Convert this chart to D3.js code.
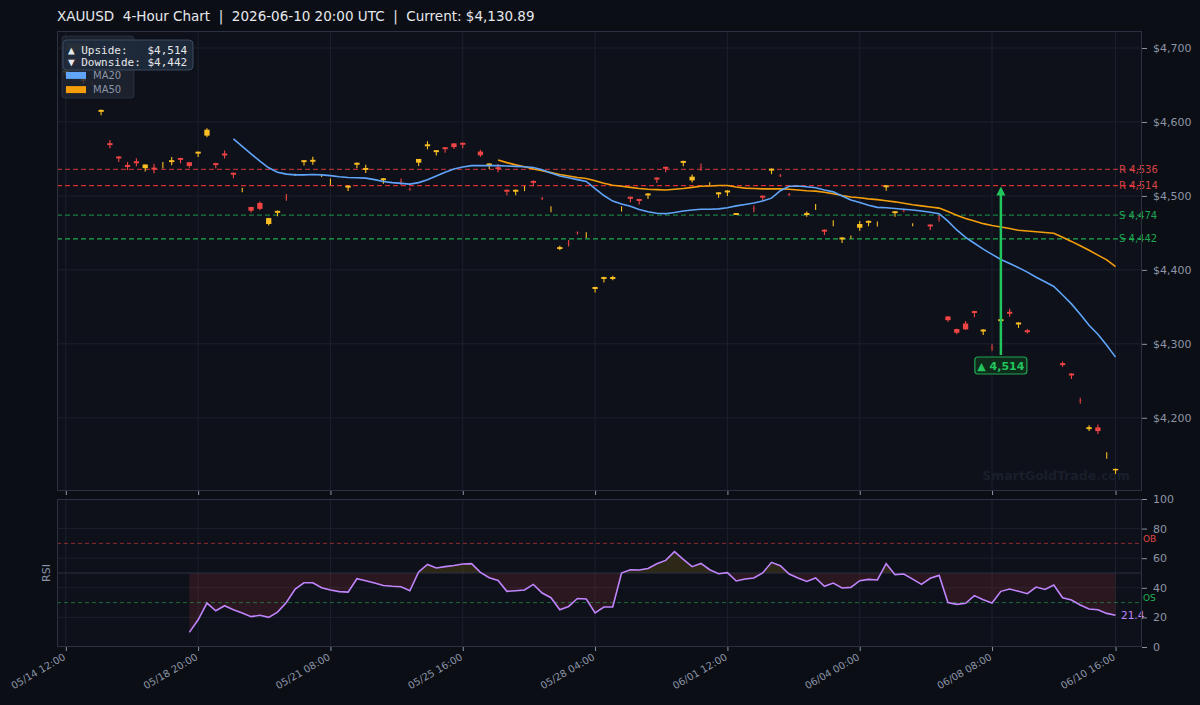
<!DOCTYPE html>
<html>
<head>
<meta charset="utf-8">
<title>XAUUSD 4-Hour Chart</title>
<script src="https://cdn.jsdelivr.net/npm/d3@7"></script>
<style>
  body { margin: 0; background: #0b0e15; }
  svg { display: block; font-family: "DejaVu Sans", sans-serif; }
</style>
</head>
<body>
<div id="chart"></div>
<script>
// XAUUSD 4h candles, MA20 / MA50, support & resistance, RSI(14)

// ---- data ----
const opens = [4666.7,4663.3,4655.7,4652.1,4613.7,4571.3,4553.3,4541.8,4546.8,4537.5,
  4538.3,4541.5,4545.7,4551.3,4545.5,4557.2,4581.5,4544.3,4557.3,4531.3,
  4508,4485,4490.5,4462,4477.2,4498.1,4528.5,4545.7,4546.2,4527.5,
  4519,null,4511.2,4542.2,4535.2,null,4521.2,null,4519.1,4509.1,
  4545,4567.2,4559.2,4565.8,4571,4571.8,null,4560,4541.2,4538.8,
  4508.3,4505.7,4510,4520.3,4496.6,4482,4428.2,4436.1,4450.1,4447,
  4374.2,4387.7,4387.7,4482.5,4498.8,4495.8,4500.7,4524.8,4539.3,null,
  4544.7,4521,4539.1,4516.5,4502.2,4504.7,4474.2,null,4482.6,4500.3,
  4534.2,4527.6,4502.1,null,4474.2,4485,4454.3,4463,4441.2,4444.5,
  4457,4463.7,4462,4511.7,4476.7,4480.1,4461,null,4461.3,4470.1,
  4337,4320,4327.5,4344.3,4316.7,4295.1,4330.7,4343.3,4326.2,4318.3,
  null,null,null,4273.8,4259.8,4223.1,4184.7,4187,4149,4128.9];
const highs = [4669.7,4663.7,4662.5,4654,4616.7,4575.5,4553.7,4546,4551,4542.6,
  4543.5,4546,4552.5,4551.7,4546,4560.2,4591.5,4544.7,4561.5,4531.7,
  4511,4485.5,4492.5,4470.5,4480.2,4502.5,4530,4548.7,4553,4529.5,
  4523.5,null,4514.2,4545.2,4542,null,4524.2,null,4523.5,4511,
  4550,4574,4562.2,4566.2,4571.5,4572.2,null,4562.5,4544.2,4543,
  4508.7,4508.7,4513.5,4520.7,4498.5,4486,4432.5,4440.5,4452,4451,
  4377.2,4390.7,4392,4486,4499.2,4496.2,4503.7,4525.2,4539.7,null,
  4547.7,4529,4544,4518.5,4505.2,4507.7,4476.8,null,4487,4500.7,
  4537.2,4529.5,4504,null,4479,4489,4454.7,4467,4444.2,4446.5,
  4466,4466.7,4465.5,4514.7,4479.7,4482,4463,null,4461.7,4474.5,
  4337.5,4320.5,4331,4344.7,4319.7,4299.5,4333.3,4347.5,4329.2,4320,
  null,null,null,4276,4260.2,4227,4190,4191,4153.5,4131.3];
const lows = [4662,4656,4651.5,4650,4609,4564.5,4546,4535,4540,4533,
  4530.5,4537,4541.5,4544,4538,4552.5,4579.5,4537,4550.5,4524,
  4505,4477.5,4480.5,4460,4472.5,4493.5,4527,4541,4542,4525.5,
  4514.5,null,4506.5,4537.5,4531,null,4516.5,null,4514.5,4507,
  4540.5,4563,4554.5,4558.5,4563.5,4564.5,null,4552.5,4536.5,4532,
  4501,4501,4506.5,4513,4494.5,4478,4426.5,4431.5,4448,4443,
  4369.5,4383,4386,4479,4491.5,4488.5,4496,4517.5,4532,null,
  4540,4518,4534,4514.5,4497.5,4500,4474.2,null,4478,4493,
  4529.5,4525.5,4500,null,4472,4481,4447,4459,4436.5,4442.5,
  4453,4459,4458.5,4507,4472,4478,4459,null,4454,4465.5,
  4330,4313,4319,4336,4312,4290.5,4330.7,4336.5,4321.5,4314,
  null,null,null,4269,4252.5,4219,4182,4178,4144.5,4124];
const closes = [4669.3,4660.7,4658.3,4651.9,4616.3,4568.7,4550.7,4539.2,4544.2,4542.5,
  4535.7,4541.5,4548.3,4548.7,4540.5,4559.8,4589.5,4541.7,4554.7,4528.7,
  4508,4480,4482.5,4470,4479.8,4497.9,4528.5,4548.3,4548.8,4527.5,
  4519,null,4513.8,4544.8,4537.8,null,4523.8,null,4518.9,4508.9,
  4550,4569.8,4561.8,4563.2,4566,4569.2,null,4555,4543.8,4536.2,
  4505.7,4508.3,4510,4517.7,4496.4,4482,4430.8,4435.9,4449.9,4447,
  4376.8,4390.3,4390.3,4482.5,4496.2,4493.2,4503.3,4522.2,4536.7,null,
  4547.3,4526,4538.9,4516.5,4504.8,4507.3,4476.8,null,4482.4,4497.7,
  4536.8,4527.4,4501.9,null,4476.8,4485,4451.7,4463,4443.8,4444.5,
  4462,4466.3,4462,4514.3,4479.3,4479.9,4461,null,4458.7,4469.9,
  4332,4315,4319.5,4341.7,4319.3,4294.9,4333.3,4340.7,4328.8,4315.7,
  null,null,null,4271.2,4257.2,4222.9,4187.3,4182,4149,4130.89];

// MA20 starts at bar 19, MA50 at bar 49
const ma20Start = 19;
const ma20 = [4577,4567,4557,4547,4538,4532,4529.5,4528.5,4528.5,4529,
  4528.5,4527.5,4526,4525,4524.5,4524,4522,4519.5,4518,4517,
  4516,4518,4522,4527,4532,4536.5,4539,4541,4541,4541,
  4541,4540.5,4540,4539.5,4538.5,4535.5,4531,4527,4524.5,4522,
  4519.5,4510,4500.5,4493,4489,4486,4481.5,4478.5,4476.5,4476,
  4477.5,4479.5,4481,4482,4482,4482.5,4484,4486.5,4488.5,4490.5,
  4493,4497,4507,4513,4513.5,4512.5,4511,4508,4505.5,4500,
  4494.5,4491,4487.5,4484.5,4484,4483,4482,4481,4479.5,4478,
  4476,4466,4454,4444,4436,4428,4421,4414,4408.5,4403,
  4397,4390,4384,4377.5,4366,4354,4340,4325,4313,4298,4282];
const ma50Start = 49;
const ma50 = [4548.5,4545,4542,4539.5,4536.5,4534,4531.5,4529,4527,4525,
  4523.5,4520.5,4517,4514.5,4513,4511.5,4510,4509,4508.5,4508,
  4509,4510,4511.5,4513,4513.5,4514,4514,4512,4510.5,4510,
  4509.5,4509.5,4509.5,4509,4508,4507,4506.5,4505,4503,4500.5,
  4498.5,4497.5,4496,4495,4493.5,4492,4490,4488,4486.5,4485,
  4483.5,4479,4474,4469.5,4466,4462.5,4460,4458,4456,4453.5,
  4452.5,4451.5,4450.5,4449.5,4444,4438.5,4432.5,4426.5,4420,4413.5,4404.5];

// RSI(14) starts at bar 14
const rsiStart = 14;
const rsi = [9.9,18.4,29.7,24.5,27.9,25.2,23,20.5,21.4,20,
  23.6,30.1,39.2,43.4,43.4,40,38.5,37.4,37.1,46.1,
  44.8,43.2,41.6,41,40.7,38,50.7,55.8,53.4,54.3,
  55.1,56.1,56.3,50.4,46.8,45,37.6,38,38.5,42.3,
  36.5,33.3,25.2,27.4,32.8,32.4,23,27,27,50,
  52.2,52,53.1,56.3,58.5,64.4,59.2,54.3,56.5,52.2,
  49.5,50.2,44.6,45.9,46.6,50,57.2,54.9,49.3,46.6,
  44.3,46.6,41,43.2,39.9,40.3,44.8,45.7,45.3,56.3,
  48.9,49.3,45.9,42.3,46.4,48.4,30.1,28.8,29.5,34.7,
  32,29.7,37.6,39.2,37.6,36,40.5,38.9,41.9,33.3,
  31.8,28.4,25.7,25.2,22.7,21.4];

// x tick positions (bar index) and labels
const xTickBars = [0, 15, 30, 45, 60, 75, 90, 105, 119];
const xTickLabels = ['05/14 12:00','05/18 20:00','05/21 08:00','05/25 16:00','05/28 04:00',
  '06/01 12:00','06/04 00:00','06/08 08:00','06/10 16:00'];
const priceTicks = [4200, 4300, 4400, 4500, 4600, 4700];
const rsiTicks = [0, 20, 40, 60, 80, 100];

// support / resistance
const levelNames = ['R', 'R', 'S', 'S'];
const levelValues = [4536, 4514, 4474, 4442];
const upside = 4514, downside = 4442;
const currentPrice = 4130.89;
const targetBar = 106, targetFrom = 4270;

// ---- layout ----
const W = 1200, H = 705;
const L = 57, R = 1142;
const mainTop = 31, mainBottom = 491;
const rsiTop = 499, rsiBottom = 647;

const bg = '#0b0e15', panelBg = '#0e111a', gridC = '#1b212d', frameC = '#2a3140', tickC = '#8b95a7';
const bullC = '#fbbf24', bearC = '#ef4444';

const svg = d3.select('#chart').append('svg')
  .attr('width', W).attr('height', H)
  .style('background', bg);

const x = d3.scaleLinear().domain([-1, 122]).range([L, R]);
const y = d3.scaleLinear().domain([4101, 4723]).range([mainBottom, mainTop]);
const yR = d3.scaleLinear().domain([0, 100]).range([rsiBottom, rsiTop]);

// Title (double spaces kept)
svg.append('text')
  .attr('x', L).attr('y', 21)
  .attr('fill', '#e6e8ec')
  .style('font-size', '13.5px')
  .style('white-space', 'pre')
  .text(`XAUUSD  4-Hour Chart  |  2026-06-10 20:00 UTC  |  Current: $${d3.format(',.2f')(currentPrice)}`);

// Panel backgrounds
[[mainTop, mainBottom], [rsiTop, rsiBottom]].forEach(([t, b]) => {
  svg.append('rect').attr('x', L).attr('y', t).attr('width', R - L).attr('height', b - t)
    .attr('fill', panelBg);
});

// Grid lines
const grid = svg.append('g').attr('stroke', gridC).attr('stroke-width', 1);
xTickBars.forEach(i => {
  grid.append('line').attr('x1', x(i)).attr('x2', x(i)).attr('y1', mainTop).attr('y2', mainBottom);
  grid.append('line').attr('x1', x(i)).attr('x2', x(i)).attr('y1', rsiTop).attr('y2', rsiBottom);
});
priceTicks.forEach(p => {
  grid.append('line').attr('x1', L).attr('x2', R).attr('y1', y(p)).attr('y2', y(p));
});
[20, 40, 60, 80].forEach(v => {
  grid.append('line').attr('x1', L).attr('x2', R).attr('y1', yR(v)).attr('y2', yR(v));
});

// Watermark
svg.append('text')
  .attr('x', 1130).attr('y', 480)
  .attr('text-anchor', 'end')
  .attr('fill', '#181f2b')
  .style('font-size', '12.5px').style('font-weight', 'bold')
  .text('SmartGoldTrade.com');

// Support / resistance lines
const levelColors = ['rgba(220,60,60,0.75)', 'rgba(230,50,50,0.95)', 'rgba(34,160,80,0.75)', 'rgba(30,180,80,0.95)'];
levelValues.forEach((v, k) => {
  svg.append('text')
    .attr('x', 1119).attr('y', y(v)).attr('dy', '0.35em')
    .attr('fill', levelNames[k] === 'R' ? '#d84545' : '#1fa552')
    .style('font-size', '10px')
    .text(`${levelNames[k]} ${d3.format(',')(v)}`);
  svg.append('line')
    .attr('x1', L).attr('x2', R).attr('y1', y(v)).attr('y2', y(v))
    .attr('stroke', levelColors[k]).attr('stroke-width', 1.2)
    .attr('stroke-dasharray', '5,3');
});

// Candles
const bars = d3.range(opens.length).filter(i => opens[i] !== null);
const bodyW = (x(1) - x(0)) * 0.6;
const candles = svg.append('g');
candles.selectAll('.wick').data(bars).enter().append('line')
  .attr('x1', i => x(i)).attr('x2', i => x(i))
  .attr('y1', i => y(highs[i])).attr('y2', i => y(lows[i]))
  .attr('stroke', i => closes[i] >= opens[i] ? bullC : bearC)
  .attr('stroke-width', 1.1);
candles.selectAll('.body').data(bars).enter().append('rect')
  .attr('x', i => x(i) - bodyW / 2)
  .attr('width', bodyW)
  .attr('y', i => y(Math.max(opens[i], closes[i])))
  .attr('height', i => Math.abs(y(opens[i]) - y(closes[i])))
  .attr('fill', i => closes[i] >= opens[i] ? bullC : bearC);

// Moving averages
const line = d3.line().x(d => x(d[0])).y(d => y(d[1]));
svg.append('path')
  .datum(ma50.map((v, k) => [ma50Start + k, v]))
  .attr('d', line).attr('fill', 'none')
  .attr('stroke', '#f59e0b').attr('stroke-width', 1.6);
svg.append('path')
  .datum(ma20.map((v, k) => [ma20Start + k, v]))
  .attr('d', line).attr('fill', 'none')
  .attr('stroke', '#60a5fa').attr('stroke-width', 1.6);

// Target arrow + label
const ax = x(targetBar);
svg.append('line')
  .attr('x1', ax).attr('x2', ax)
  .attr('y1', y(targetFrom) - 11).attr('y2', y(upside) + 7)
  .attr('stroke', '#22c55e').attr('stroke-width', 2.5);
svg.append('path')
  .attr('d', `M${ax},${y(upside) + 1}L${ax - 4.5},${y(upside) + 10}L${ax + 4.5},${y(upside) + 10}Z`)
  .attr('fill', '#22c55e');
svg.append('rect')
  .attr('x', ax - 26).attr('y', y(targetFrom) - 9)
  .attr('width', 52).attr('height', 17).attr('rx', 3)
  .attr('fill', '#0f2a1b').attr('stroke', '#1fa552').attr('stroke-width', 1.2);
svg.append('text')
  .attr('x', ax).attr('y', y(targetFrom)).attr('dy', '0.35em')
  .attr('text-anchor', 'middle')
  .attr('fill', '#22c55e')
  .style('font-size', '11px').style('font-weight', 'bold')
  .text(`▲ ${d3.format(',')(upside)}`);

// Legend (its first two rows sit under the upside/downside box, as in the source)
const legend = svg.append('g');
legend.append('rect')
  .attr('x', 62).attr('y', 36).attr('width', 72).attr('height', 62).attr('rx', 3)
  .attr('fill', 'rgba(30,37,51,0.85)').attr('stroke', 'rgba(60,70,90,0.5)');
[['Bullish', bullC], ['Bearish', bearC], ['MA20', '#60a5fa'], ['MA50', '#f59e0b']].forEach(([name, c], k) => {
  const cy = 47 + k * 14.2;
  legend.append('rect').attr('x', 66).attr('y', cy - 3.5).attr('width', 20).attr('height', 7).attr('fill', c);
  legend.append('text').attr('x', 93).attr('y', cy).attr('dy', '0.35em')
    .attr('fill', '#8b95a7').style('font-size', '10px').text(name);
});

// Upside / downside box
svg.append('rect')
  .attr('x', 63).attr('y', 40).attr('width', 130).attr('height', 30).attr('rx', 4)
  .attr('fill', 'rgba(30,42,58,0.96)').attr('stroke', '#3b4a5f').attr('stroke-width', 1);
[`▲ Upside:   $${d3.format(',')(upside)}`, `▼ Downside: $${d3.format(',')(downside)}`].forEach((t, k) => {
  svg.append('text')
    .attr('x', 68).attr('y', 50 + k * 12.5).attr('dy', '0.35em')
    .attr('fill', '#e6e8ec')
    .style('font-family', '"DejaVu Sans Mono", monospace')
    .style('font-size', '11px')
    .style('white-space', 'pre')
    .text(t);
});

// ---- RSI panel ----
const rsiPts = rsi.map((v, k) => [rsiStart + k, v]);
const defs = svg.append('defs');
defs.append('clipPath').attr('id', 'above50').append('rect')
  .attr('x', L).attr('y', rsiTop).attr('width', R - L).attr('height', yR(50) - rsiTop);
defs.append('clipPath').attr('id', 'below50').append('rect')
  .attr('x', L).attr('y', yR(50)).attr('width', R - L).attr('height', rsiBottom - yR(50));
const rsiArea = d3.area().x(d => x(d[0])).y0(yR(50)).y1(d => yR(d[1]));
svg.append('path').datum(rsiPts).attr('d', rsiArea)
  .attr('fill', 'rgba(234,179,8,0.14)').attr('clip-path', 'url(#above50)');
svg.append('path').datum(rsiPts).attr('d', rsiArea)
  .attr('fill', 'rgba(239,68,68,0.13)').attr('clip-path', 'url(#below50)');

svg.append('line').attr('x1', L).attr('x2', R).attr('y1', yR(50)).attr('y2', yR(50))
  .attr('stroke', '#2a3140').attr('stroke-width', 1);
svg.append('line').attr('x1', L).attr('x2', R).attr('y1', yR(70)).attr('y2', yR(70))
  .attr('stroke', 'rgba(220,60,60,0.6)').attr('stroke-dasharray', '4,3');
svg.append('line').attr('x1', L).attr('x2', R).attr('y1', yR(30)).attr('y2', yR(30))
  .attr('stroke', 'rgba(34,170,80,0.6)').attr('stroke-dasharray', '4,3');

svg.append('path').datum(rsiPts)
  .attr('d', d3.line().x(d => x(d[0])).y(d => yR(d[1])))
  .attr('fill', 'none').attr('stroke', '#c084fc').attr('stroke-width', 1.6);

svg.append('text').attr('x', 1121).attr('y', yR(rsi[rsi.length - 1])).attr('dy', '0.35em')
  .attr('fill', '#c084fc').style('font-size', '10.5px')
  .text(rsi[rsi.length - 1].toFixed(1));
svg.append('text').attr('x', 1143).attr('y', yR(70) - 5).attr('dy', '0.35em')
  .attr('fill', '#e04848').style('font-size', '9px').text('OB');
svg.append('text').attr('x', 1143).attr('y', yR(30) - 5).attr('dy', '0.35em')
  .attr('fill', '#22b455').style('font-size', '9px').text('OS');

svg.append('text')
  .attr('transform', `translate(46,${yR(50)}) rotate(-90)`)
  .attr('text-anchor', 'middle').attr('dy', '0.35em')
  .attr('fill', tickC).style('font-size', '11px')
  .text('RSI');

// Panel frames
[[mainTop, mainBottom], [rsiTop, rsiBottom]].forEach(([t, b]) => {
  svg.append('rect').attr('x', L + 0.5).attr('y', t + 0.5).attr('width', R - L - 1).attr('height', b - t - 1)
    .attr('fill', 'none').attr('stroke', frameC);
});

// ---- axes ----
function styleAxis(g) {
  g.select('.domain').remove();
  g.selectAll('.tick line').attr('stroke', tickC);
  g.selectAll('.tick text').attr('fill', tickC).style('font-family', '"DejaVu Sans", sans-serif');
}

svg.append('g')
  .attr('transform', `translate(${R},0)`)
  .call(d3.axisRight(y).tickValues(priceTicks).tickSize(5).tickPadding(6)
    .tickFormat(d => '$' + d3.format(',')(d)))
  .call(styleAxis)
  .selectAll('text').style('font-size', '11px');

svg.append('g')
  .attr('transform', `translate(${R},0)`)
  .call(d3.axisRight(yR).tickValues(rsiTicks).tickSize(5).tickPadding(6))
  .call(styleAxis)
  .selectAll('text').style('font-size', '11px');

svg.append('g')
  .attr('transform', `translate(0,${mainBottom})`)
  .call(d3.axisBottom(x).tickValues(xTickBars).tickSize(4).tickFormat(''))
  .call(styleAxis);

const xAxis = svg.append('g')
  .attr('transform', `translate(0,${rsiBottom})`)
  .call(d3.axisBottom(x).tickValues(xTickBars).tickSize(4)
    .tickFormat((d, k) => xTickLabels[k]))
  .call(styleAxis);
xAxis.selectAll('.tick text')
  .style('font-size', '10px')
  .attr('text-anchor', 'end')
  .attr('dy', null)
  .attr('y', 0)
  .attr('transform', 'translate(0,12) rotate(-30)');
</script>
</body>
</html>
